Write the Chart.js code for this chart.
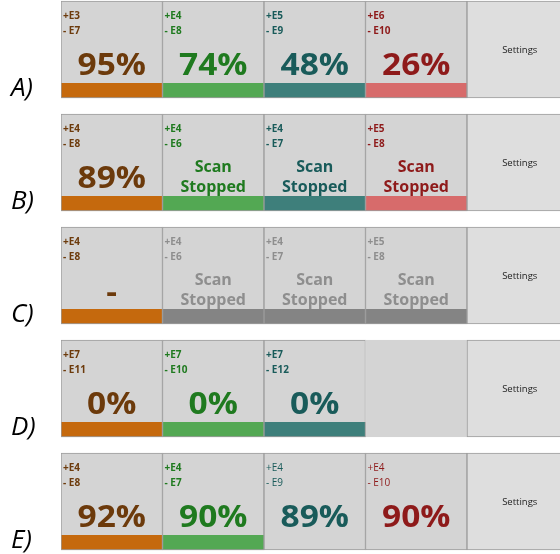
<!DOCTYPE html>
<html>
<head>
<meta charset="utf-8">
<script src="https://cdn.jsdelivr.net/npm/chart.js@4/dist/chart.umd.min.js"></script>
<style>
  html, body { margin: 0; padding: 0; background: #ffffff; }
  #wrap { width: 560px; height: 554px; }
</style>
</head>
<body>
<div id="wrap"><canvas id="c" width="560" height="554"></canvas></div>
<script>
// ---------------- data ----------------
const rowLabels = ['A)', 'B)', 'C)', 'D)', 'E)'];
const columnNames = ['Scan 1', 'Scan 2', 'Scan 3', 'Scan 4', 'Settings'];
const plusLabels = [
  ['+E3', '+E4', '+E5', '+E6'],
  ['+E4', '+E4', '+E4', '+E5'],
  ['+E4', '+E4', '+E4', '+E5'],
  ['+E7', '+E7', '+E7', ''],
  ['+E4', '+E4', '+E4', '+E4']
];
const minusLabels = [
  ['- E7', '- E8', '- E9', '- E10'],
  ['- E8', '- E6', '- E7', '- E8'],
  ['- E8', '- E6', '- E7', '- E8'],
  ['- E11', '- E10', '- E12', ''],
  ['- E8', '- E7', '- E9', '- E10']
];
const percentValues = [
  [95, 74, 48, 26],
  [89, null, null, null],
  [null, null, null, null],
  [0, 0, 0, null],
  [92, 90, 89, 90]
];
// on: active, stopped: Scan Stopped (coloured), idle: dash, off: greyed Scan Stopped,
// empty: blank tile, plain: no strip, regular small labels
const tileState = [
  ['on', 'on', 'on', 'on'],
  ['on', 'stopped', 'stopped', 'stopped'],
  ['idle', 'off', 'off', 'off'],
  ['on', 'on', 'on', 'empty'],
  ['on', 'on', 'plain', 'plain']
];
const settingsText = 'Settings';
const stoppedText = ['Scan', 'Stopped'];

// ---------------- styles ----------------
const textColors = ['#6c3a0b', '#1f7a1f', '#195b5a', '#8e1a1a'];
const stripColors = ['#c5690d', '#53a853', '#3e7f7b', '#d76b6b'];
const greyText = '#8e8e8e';
const greyStrip = '#848484';
const tileBg = '#d4d4d4';
const settingsBg = '#dedede';
const borderCol = '#9c9c9c';
const ROW = 113;          // px per row unit
const COL = 101.5;        // px per column unit
const TILE_H = 97 / ROW;
const STRIP_TOP = 82 / ROW;
const FONT = '"Open Sans", "Noto Sans", sans-serif';

// ---------------- build datasets ----------------
const tileData = [], tileMeta = [];
const stripData = [], stripMeta = [];
rowLabels.forEach((lab, r) => {
  columnNames.forEach((name, c) => {
    tileData.push({ x: c + 0.5, y: [r, r + TILE_H] });
    tileMeta.push({ r, c });
    if (c < 4) {
      const st = tileState[r][c];
      if (st !== 'empty' && st !== 'plain') {
        stripData.push({ x: c + 0.5, y: [r + STRIP_TOP, r + TILE_H] });
        stripMeta.push({ r, c });
      }
    }
  });
});

function wideText(ctx, text, x, y, sx) {
  ctx.save();
  ctx.translate(x, y);
  ctx.scale(sx, 1);
  ctx.fillText(text, 0, 0);
  ctx.restore();
}

const textPlugin = {
  id: 'tileText',
  afterDatasetsDraw(chart) {
    const ctx = chart.ctx;
    const xs = chart.scales.x, ys = chart.scales.y;
    ctx.save();
    rowLabels.forEach((lab, r) => {
      const top = ys.getPixelForValue(r);
      // row label
      ctx.fillStyle = '#000';
      ctx.font = 'italic 26px ' + FONT;
      ctx.textAlign = 'left';
      ctx.textBaseline = 'alphabetic';
      ctx.fillText(lab, 11, top + 95);
      columnNames.forEach((name, c) => {
        const cx = xs.getPixelForValue(c + 0.5);
        const left = xs.getPixelForValue(c);
        if (c === 4) {
          ctx.fillStyle = '#222';
          ctx.font = '9.5px ' + FONT;
          ctx.textAlign = 'center';
          ctx.fillText(settingsText, cx + 2, top + 52);
          return;
        }
        const st = tileState[r][c];
        if (st === 'empty') return;
        const col = st === 'off' ? greyText : textColors[c];
        ctx.fillStyle = col;
        ctx.textAlign = 'left';
        ctx.font = (st === 'plain' ? '' : 'bold ') + '10px ' + FONT;
        ctx.fillText(plusLabels[r][c], left + 2, top + 18);
        ctx.fillText(minusLabels[r][c], left + 2, top + 33);
        ctx.textAlign = 'center';
        const v = percentValues[r][c];
        if (v !== null) {
          ctx.font = 'bold 31px ' + FONT;
          wideText(ctx, v + '%', cx, top + 74, 1.08);
        } else if (st === 'idle') {
          ctx.font = 'bold 31px ' + FONT;
          wideText(ctx, '-', cx, top + 75, 1.08);
        } else {
          ctx.font = 'bold 16px ' + FONT;
          ctx.fillText(stoppedText[0], cx, top + 58);
          ctx.fillText(stoppedText[1], cx, top + 78);
        }
      });
    });
    ctx.restore();
  }
};

const canvasW = 560, canvasH = 554, padLeft = 61;

new Chart(document.getElementById('c'), {
  type: 'bar',
  data: {
    datasets: [
      {
        label: 'strip',
        data: stripData,
        grouped: false,
        order: 0,
        barPercentage: 1,
        categoryPercentage: 1,
        backgroundColor: (ctx) => {
          const m = stripMeta[ctx.dataIndex];
          if (!m) return greyStrip;
          return tileState[m.r][m.c] === 'off' ? greyStrip : stripColors[m.c];
        },
        borderColor: borderCol,
        borderWidth: { top: 0, left: 1, right: 1, bottom: 1 },
        borderSkipped: false
      },
      {
        label: 'tile',
        data: tileData,
        grouped: false,
        order: 1,
        barPercentage: 1,
        categoryPercentage: 1,
        backgroundColor: (ctx) => {
          const m = tileMeta[ctx.dataIndex];
          if (!m) return tileBg;
          return m.c === 4 ? settingsBg : tileBg;
        },
        borderColor: (ctx) => {
          const m = tileMeta[ctx.dataIndex];
          if (m && m.c < 4 && tileState[m.r][m.c] === 'empty') return tileBg;
          return borderCol;
        },
        borderWidth: 1,
        borderSkipped: false
      }
    ]
  },
  options: {
    responsive: false,
    animation: false,
    devicePixelRatio: 1,
    layout: { padding: { left: padLeft, right: 0, top: 0, bottom: 0 } },
    scales: {
      x: {
        type: 'linear',
        display: false,
        offset: false,
        grid: { offset: false },
        min: 0,
        max: (canvasW - padLeft) / COL,
        afterBuildTicks: (axis) => { axis.ticks = [0, 1, 2, 3, 4].map(v => ({ value: v })); }
      },
      y: {
        type: 'linear',
        display: false,
        reverse: true,
        min: -1 / ROW,
        max: -1 / ROW + canvasH / ROW
      }
    },
    plugins: { legend: { display: false }, tooltip: { enabled: false } }
  },
  plugins: [textPlugin]
});
</script>
</body>
</html>
